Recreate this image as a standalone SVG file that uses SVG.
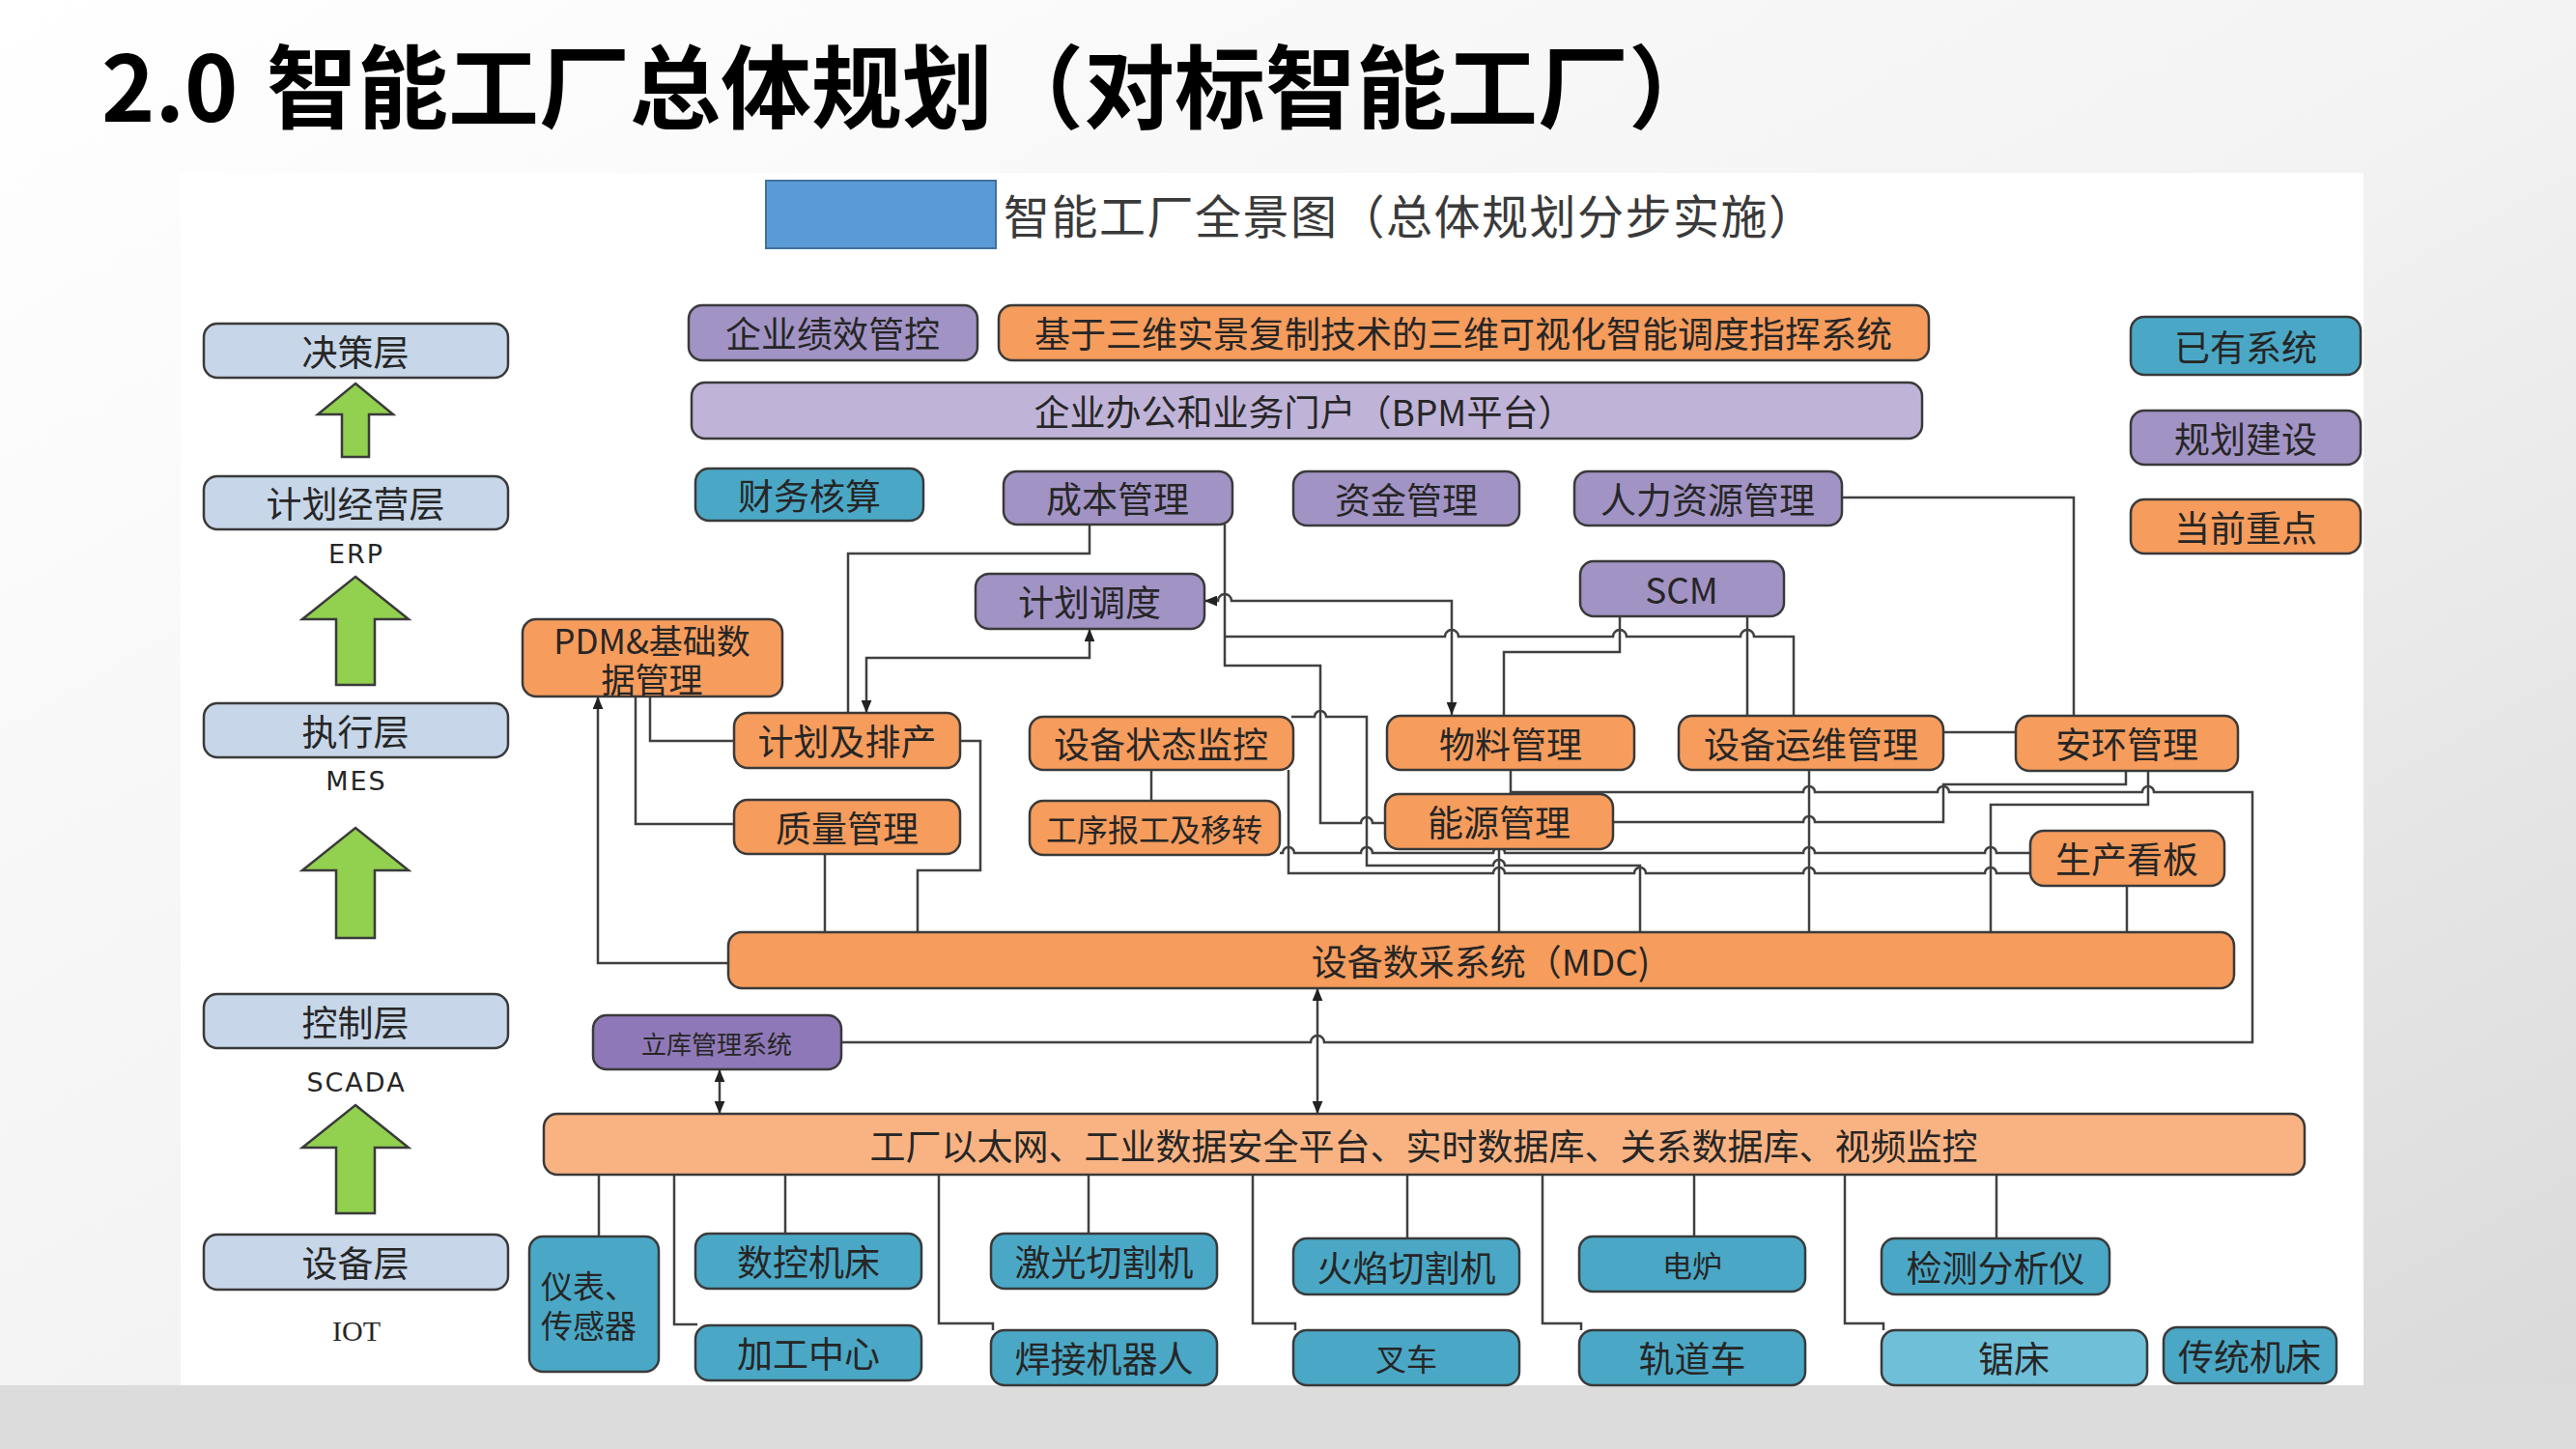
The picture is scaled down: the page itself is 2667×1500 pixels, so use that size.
<svg xmlns="http://www.w3.org/2000/svg" width="2667" height="1500" viewBox="0 0 2667 1500">
<defs>
<linearGradient id="bg" x1="0" y1="0" x2="1" y2="1">
<stop offset="0" stop-color="#ffffff"/>
<stop offset="0.5" stop-color="#f3f3f3"/>
<stop offset="1" stop-color="#d9d9d9"/>
</linearGradient>
<marker id="ar" viewBox="0 0 12 10" refX="12" refY="5" markerWidth="13" markerHeight="11" markerUnits="userSpaceOnUse" orient="auto-start-reverse">
<path d="M0,0 L12,5 L0,10 z" fill="#222"/>
</marker>
<style>
.bx{stroke:#3a3a3a;stroke-width:2.5}
.lay{fill:#c7d6e8}
.org{fill:#f69c5c}
.lor{fill:#f9b382}
.pur{fill:#a293c5}
.lpu{fill:#c0b3d8}
.dpu{fill:#8f78b7}
.tea{fill:#4aa8c6}
.lte{fill:#6fbfd8}
.t{font-family:"Noto Sans CJK SC","Noto Sans",sans-serif;font-size:37px;fill:#262626;text-anchor:middle;dominant-baseline:central}
.s{font-family:"DejaVu Sans",sans-serif;font-size:27px;fill:#262626;text-anchor:middle;letter-spacing:2px}
.ln{fill:none;stroke:#404040;stroke-width:2.5}
.grn{fill:#92d050;stroke:#3a3a3a;stroke-width:2.5}
</style>
</defs>
<rect x="0" y="0" width="2667" height="1500" fill="url(#bg)"/>
<rect x="187" y="179" width="2260" height="1255" fill="#ffffff"/>
<rect x="0" y="1434" width="2667" height="66" fill="#dcdcdc"/>

<g id="title">
<text x="105" y="126" font-family="'Noto Sans CJK SC',sans-serif" font-size="94" font-weight="700" fill="#000">2.0<tspan x="276">智能工厂总体规划（对标智能工厂）</tspan></text>
</g>
<g id="header">
<rect x="793" y="187" width="238" height="70" fill="#5b9bd5" stroke="#41719c" stroke-width="2"/>
<text x="1039" y="221" font-family="'Noto Sans CJK SC',sans-serif" font-size="48" letter-spacing="1.5" fill="#3a3a3a" dominant-baseline="central">智能工厂全景图（总体规划分步实施）</text>
</g>

<g id="layers">
<g id="l-decision"><rect class="bx lay" x="211" y="335" width="315" height="56" rx="14"/><text class="t" x="368" y="363">决策层</text></g>
<g id="l-plan"><rect class="bx lay" x="211" y="493" width="315" height="55" rx="14"/><text class="t" x="368" y="520">计划经营层</text></g>
<g id="l-exec"><rect class="bx lay" x="211" y="728" width="315" height="56" rx="14"/><text class="t" x="368" y="756">执行层</text></g>
<g id="l-ctrl"><rect class="bx lay" x="211" y="1029" width="315" height="56" rx="14"/><text class="t" x="368" y="1057">控制层</text></g>
<g id="l-dev"><rect class="bx lay" x="211" y="1278" width="315" height="57" rx="14"/><text class="t" x="368" y="1306">设备层</text></g>
<text class="s" x="369" y="583">ERP</text>
<text class="s" x="369" y="818">MES</text>
<text class="s" x="369" y="1130">SCADA</text>
<text x="369" y="1388" font-family="'Liberation Serif',serif" font-size="30" fill="#262626" text-anchor="middle">IOT</text>
<polygon class="grn" points="368,397 407,429 382,429 382,473 354,473 354,429 329,429"/>
<polygon class="grn" points="368,597 423,641 388,641 388,709 348,709 348,641 313,641"/>
<polygon class="grn" points="368,857 423,901 388,901 388,971 348,971 348,901 313,901"/>
<polygon class="grn" points="368,1144 423,1188 388,1188 388,1256 348,1256 348,1188 313,1188"/>
</g>

<g id="legend">
<g id="lg-exist"><rect class="bx tea" x="2206" y="328" width="238" height="60" rx="14"/><text class="t" x="2325" y="358">已有系统</text></g>
<g id="lg-plan"><rect class="bx pur" x="2206" y="425" width="238" height="56" rx="14"/><text class="t" x="2325" y="453">规划建设</text></g>
<g id="lg-focus"><rect class="bx org" x="2206" y="517" width="238" height="56" rx="14"/><text class="t" x="2325" y="545">当前重点</text></g>
</g>

<g id="connectors">
<path class="ln" d="M1128,543 V573 H878 V738"/>
<path class="ln" d="M1128,651 V681 H897 V738" marker-start="url(#ar)" marker-end="url(#ar)"/>
<path class="ln" d="M1503,740 V622 H1275 A7,7 0 0 0 1261,622 H1247" marker-start="url(#ar)" marker-end="url(#ar)"/>
<path class="ln" d="M1268,543 V689 H1367 V852 H1409 A6,6 0 0 1 1421,852 H1434"/>
<path class="ln" d="M1268,659 H1496 A7,7 0 0 1 1510,659 H1670 A7,7 0 0 1 1684,659 H1802 A7,7 0 0 1 1816,659 H1857 V741"/>
<path class="ln" d="M1677,638 V675 H1557 V741"/>
<path class="ln" d="M1809,638 V741"/>
<path class="ln" d="M1907,515 H2147 V741"/>
<path class="ln" d="M2012,758 H2087"/>
<path class="ln" d="M2201,798 V812 H2012 V851 H1879 A6,6 0 0 0 1867,851 H1670"/>
<path class="ln" d="M1564,797 V820 H1867 A6,6 0 0 1 1879,820 H2006 A6,6 0 0 1 2018,820 H2218 A6,6 0 0 1 2230,820 H2332 V1079 H1371 A7,7 0 0 0 1357,1079 H871"/>
<path class="ln" d="M2224,798 V833 H2061 V965"/>
<path class="ln" d="M2202,917 V965"/>
<path class="ln" d="M1873,797 V965"/>
<path class="ln" d="M1552,879 V965"/>
<path class="ln" d="M1325,883 H1328 A6,6 0 0 1 1340,883 H1409 A6,6 0 0 1 1421,883 H1546 A6,6 0 0 1 1558,883 H1867 A6,6 0 0 1 1879,883 H2055 A6,6 0 0 1 2067,883 H2102"/>
<path class="ln" d="M1337,742 H1361 A6,6 0 0 1 1373,742 H1415 V896 H1546 A6,6 0 0 1 1558,896 H1698 V965"/>
<path class="ln" d="M1334,797 V904 H1546 A6,6 0 0 1 1558,904 H1692 A6,6 0 0 1 1704,904 H1867 A6,6 0 0 1 1879,904 H2055 A6,6 0 0 1 2067,904 H2102"/>
<path class="ln" d="M1192,797 V829"/>
<path class="ln" d="M673,721 V767 H760"/>
<path class="ln" d="M658,721 V853 H760"/>
<path class="ln" d="M754,997 H619 V721" marker-end="url(#ar)"/>
<path class="ln" d="M994,767 H1015 V901 H950 V965"/>
<path class="ln" d="M854,884 V965"/>
<path class="ln" d="M1364,1023 V1153" marker-start="url(#ar)" marker-end="url(#ar)"/>
<path class="ln" d="M745,1107 V1153" marker-start="url(#ar)" marker-end="url(#ar)"/>
<path class="ln" d="M620,1216 V1280"/>
<path class="ln" d="M698,1216 V1371 H722"/>
<path class="ln" d="M813,1216 V1277"/>
<path class="ln" d="M972,1216 V1370 H1028 V1377"/>
<path class="ln" d="M1127,1216 V1277"/>
<path class="ln" d="M1297,1216 V1370 H1341 V1377"/>
<path class="ln" d="M1457,1216 V1282"/>
<path class="ln" d="M1597,1216 V1370 H1637 V1377"/>
<path class="ln" d="M1754,1216 V1280"/>
<path class="ln" d="M1910,1216 V1370 H1950 V1377"/>
<path class="ln" d="M2067,1216 V1282"/>
</g>

<g id="n-kpi"><rect class="bx pur" x="713" y="316" width="299" height="57" rx="14"/><text class="t" x="862" y="344">企业绩效管控</text></g>
<g id="n-3d"><rect class="bx org" x="1034" y="316" width="963" height="57" rx="14"/><text class="t" x="1515" y="344">基于三维实景复制技术的三维可视化智能调度指挥系统</text></g>
<g id="n-bpm"><rect class="bx lpu" x="716" y="396" width="1274" height="58" rx="14"/><text class="t" x="1350" y="425">企业办公和业务门户（BPM平台）</text></g>
<g id="n-fin"><rect class="bx tea" x="720" y="485" width="236" height="54" rx="14"/><text class="t" x="838" y="512">财务核算</text></g>
<g id="n-cost"><rect class="bx pur" x="1039" y="488" width="237" height="55" rx="14"/><text class="t" x="1157" y="515">成本管理</text></g>
<g id="n-fund"><rect class="bx pur" x="1339" y="488" width="234" height="56" rx="14"/><text class="t" x="1456" y="516">资金管理</text></g>
<g id="n-hr"><rect class="bx pur" x="1630" y="488" width="277" height="56" rx="14"/><text class="t" x="1768" y="516">人力资源管理</text></g>
<g id="n-scm"><rect class="bx pur" x="1636" y="581" width="211" height="57" rx="14"/><text class="t" x="1741" y="609">SCM</text></g>
<g id="n-sched"><rect class="bx pur" x="1010" y="594" width="237" height="57" rx="14"/><text class="t" x="1128" y="622">计划调度</text></g>
<g id="n-pdm"><rect class="bx org" x="541" y="641" width="269" height="80" rx="14"/><text class="t" style="font-size:35px"><tspan x="675" y="661">PDM&amp;基础数</tspan><tspan x="675" y="701">据管理</tspan></text></g>
<g id="n-aps"><rect class="bx org" x="760" y="738" width="234" height="57" rx="14"/><text class="t" x="877" y="766">计划及排产</text></g>
<g id="n-qm"><rect class="bx org" x="760" y="828" width="234" height="56" rx="14"/><text class="t" x="877" y="856">质量管理</text></g>
<g id="n-eqmon"><rect class="bx org" x="1066" y="742" width="273" height="55" rx="14"/><text class="t" x="1202" y="769">设备状态监控</text></g>
<g id="n-proc"><rect class="bx org" x="1066" y="829" width="259" height="56" rx="14"/><text class="t" x="1195" y="857" style="font-size:32px">工序报工及移转</text></g>
<g id="n-mat"><rect class="bx org" x="1436" y="741" width="256" height="56" rx="14"/><text class="t" x="1564" y="769">物料管理</text></g>
<g id="n-energy"><rect class="bx org" x="1434" y="822" width="236" height="57" rx="14"/><text class="t" x="1552" y="850">能源管理</text></g>
<g id="n-eqops"><rect class="bx org" x="1738" y="741" width="274" height="56" rx="14"/><text class="t" x="1875" y="769">设备运维管理</text></g>
<g id="n-ehs"><rect class="bx org" x="2087" y="741" width="230" height="57" rx="14"/><text class="t" x="2202" y="769">安环管理</text></g>
<g id="n-board"><rect class="bx org" x="2102" y="860" width="201" height="57" rx="14"/><text class="t" x="2202" y="888">生产看板</text></g>
<g id="n-mdc"><rect class="bx org" x="754" y="965" width="1559" height="58" rx="14"/><text class="t" x="1533" y="994">设备数采系统（MDC)</text></g>
<g id="n-wms"><rect class="bx dpu" x="614" y="1051" width="257" height="56" rx="14"/><text class="t" x="742" y="1079" style="font-size:26px">立库管理系统</text></g>
<g id="n-net"><rect class="bx lor" x="563" y="1153" width="1823" height="63" rx="14"/><text class="t" x="1474" y="1185">工厂以太网、工业数据安全平台、实时数据库、关系数据库、视频监控</text></g>

<g id="n-sensor"><rect class="bx tea" x="548" y="1280" width="134" height="140" rx="14"/><text class="t" style="text-anchor:start;font-size:33px"><tspan x="560" y="1330">仪表、</tspan><tspan x="560" y="1371">传感器</tspan></text></g>
<g id="n-cnc"><rect class="bx tea" x="720" y="1277" width="234" height="57" rx="14"/><text class="t" x="837" y="1305">数控机床</text></g>
<g id="n-mc"><rect class="bx tea" x="720" y="1372" width="234" height="57" rx="14"/><text class="t" x="837" y="1400">加工中心</text></g>
<g id="n-laser"><rect class="bx tea" x="1026" y="1277" width="234" height="57" rx="14"/><text class="t" x="1143" y="1305">激光切割机</text></g>
<g id="n-weld"><rect class="bx tea" x="1026" y="1377" width="234" height="57" rx="14"/><text class="t" x="1143" y="1405">焊接机器人</text></g>
<g id="n-flame"><rect class="bx tea" x="1339" y="1282" width="234" height="58" rx="14"/><text class="t" x="1456" y="1311">火焰切割机</text></g>
<g id="n-fork"><rect class="bx tea" x="1339" y="1377" width="234" height="57" rx="14"/><text class="t" x="1456" y="1405" style="font-size:32px">叉车</text></g>
<g id="n-furn"><rect class="bx tea" x="1635" y="1280" width="234" height="57" rx="14"/><text class="t" x="1752" y="1308" style="font-size:31px">电炉</text></g>
<g id="n-rail"><rect class="bx tea" x="1635" y="1377" width="234" height="57" rx="14"/><text class="t" x="1752" y="1405">轨道车</text></g>
<g id="n-test"><rect class="bx tea" x="1948" y="1282" width="236" height="58" rx="14"/><text class="t" x="2066" y="1311">检测分析仪</text></g>
<g id="n-saw"><rect class="bx lte" x="1948" y="1377" width="275" height="57" rx="14"/><text class="t" x="2085" y="1405">锯床</text></g>
<g id="n-trad"><rect class="bx tea" x="2240" y="1374" width="179" height="58" rx="14"/><text class="t" x="2329" y="1403">传统机床</text></g>
</svg>
